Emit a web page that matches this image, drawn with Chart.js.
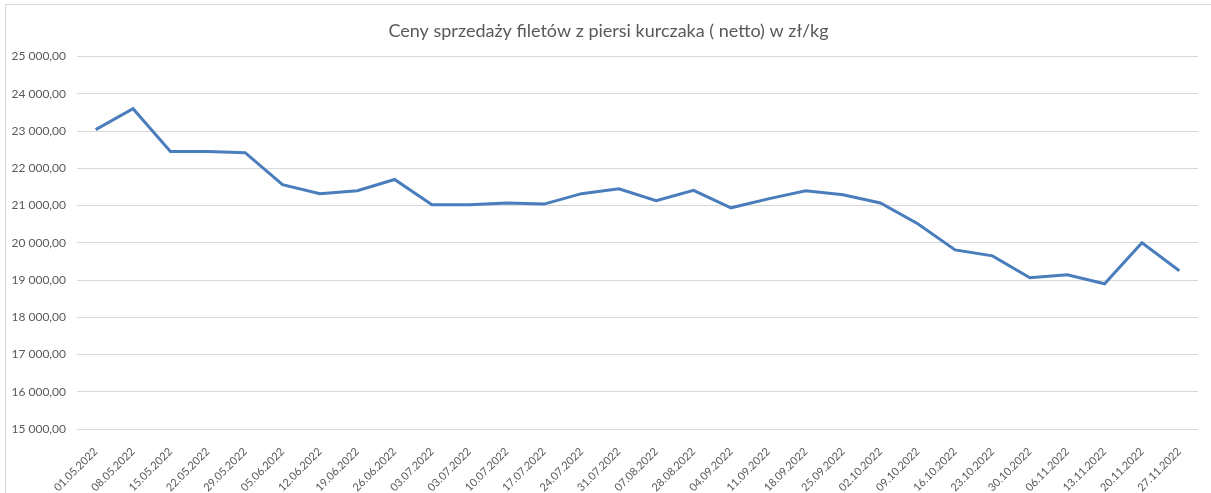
<!DOCTYPE html>
<html>
<head>
<meta charset="utf-8">
<script src="https://cdn.jsdelivr.net/npm/chart.js@4/dist/chart.umd.min.js"></script>
<style>
  body { margin: 0; background: #fff; }
  #wrap { position: relative; width: 1211px; height: 493px; overflow: hidden; }
  #frame { position: absolute; left: 5px; top: 4px; width: 1230px; height: 520px; border: 1px solid #d9d9d9; }
  #chart { position: absolute; left: 0; top: 0; }
</style>
</head>
<body>
<div id="wrap">
  <div id="frame"></div>
  <canvas id="chart" width="1211" height="493"></canvas>
</div>
<script>
// dane z wykresu
const weeks = ['01.05.2022', '08.05.2022', '15.05.2022', '22.05.2022', '29.05.2022', '05.06.2022',
  '12.06.2022', '19.06.2022', '26.06.2022', '03.07.2022', '03.07.2022', '10.07.2022', '17.07.2022',
  '24.07.2022', '31.07.2022', '07.08.2022', '28.08.2022', '04.09.2022', '11.09.2022', '18.09.2022',
  '25.09.2022', '02.10.2022', '09.10.2022', '16.10.2022', '23.10.2022', '30.10.2022', '06.11.2022',
  '13.11.2022', '20.11.2022', '27.11.2022']

const prices = [23040, 23600, 22450, 22450, 22420, 21560, 21320, 21400, 21700, 21020, 21020, 21070,
  21040, 21320, 21450, 21130, 21410, 20940, 21180, 21400, 21290, 21070, 20510, 19810, 19650, 19060,
  19140, 18900, 20000, 19250]

const yMin = 15000
const yMax = 25000
const yStep = 1000

const title = 'Ceny sprzedaży filetów z piersi kurczaka ( netto) w zł/kg'

// 25 000,00
const fmt = (v) => Math.round(v).toString().replace(/\B(?=(\d{3})+(?!\d))/g, ' ') + ',00'

const grey = '#595959'
const ctx = document.querySelector('#chart').getContext('2d')

// title sits a bit right of the canvas centre, like in excel
const nudgeTitle = {
  id: 'nudgeTitle',
  afterLayout: (chart) => {
    chart.titleBlock.left += 7
    chart.titleBlock.right += 7
  }
}

new Chart(ctx, {
  type: 'line',
  data: {
    labels: weeks,
    datasets: [
      {
        data: prices,
        borderColor: '#4a7dbb',
        borderWidth: 3,
        pointRadius: 0,
        tension: 0,
        fill: false
      }
    ]
  },
  options: {
    responsive: false,
    animation: false,
    layout: { padding: { left: 5, right: 13, top: 0, bottom: 0 } },
    plugins: {
      legend: { display: false },
      tooltip: { enabled: false },
      title: {
        display: true,
        text: title,
        color: grey,
        font: { family: 'Lato', size: 18, weight: 'normal' },
        padding: { top: 20, bottom: 15 }
      }
    },
    scales: {
      x: {
        offset: true,
        grid: { display: false },
        border: { display: false },
        ticks: {
          color: grey,
          font: { family: 'Lato', size: 11 },
          maxRotation: 45,
          minRotation: 45,
          autoSkip: false,
          padding: 8
        },
        afterFit: (s) => { s.height = 64 }
      },
      y: {
        min: yMin,
        max: yMax,
        grid: { color: '#d9d9d9', lineWidth: 1, drawTicks: false },
        border: { display: false },
        ticks: {
          stepSize: yStep,
          color: grey,
          font: { family: 'Lato', size: 12 },
          padding: 11,
          callback: fmt
        },
        afterFit: (s) => { s.width = 72 }
      }
    }
  },
  plugins: [nudgeTitle]
})
</script>
</body>
</html>
